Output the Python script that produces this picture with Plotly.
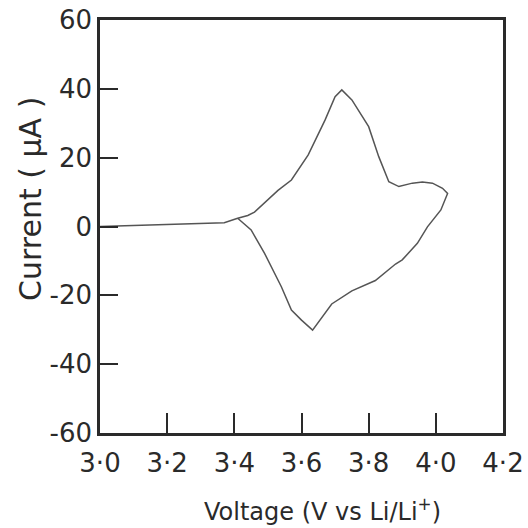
import plotly.graph_objects as go

voltage = [3.00, 3.06, 3.12, 3.20, 3.27, 3.33, 3.37, 3.41, 3.44, 3.46, 3.49, 3.53, 3.57, 3.62, 3.67, 3.70, 3.72,
           3.75, 3.80, 3.83, 3.86, 3.89, 3.93, 3.96, 3.99, 4.02, 4.035, 4.015, 3.975, 3.945, 3.90, 3.88,
           3.82, 3.75, 3.69, 3.655, 3.633, 3.60, 3.57, 3.54, 3.49, 3.45, 3.41]
current = [0.0, 0.2, 0.4, 0.7, 0.9, 1.0, 1.1, 2.4, 3.2, 4.2, 7.0, 10.5, 13.5, 20.8, 30.9, 37.7, 39.7,
           36.8, 29.0, 20.3, 13.0, 11.6, 12.6, 12.9, 12.6, 11.1, 9.6, 4.8, -0.1, -4.9, -9.7, -10.9,
           -15.7, -18.7, -22.5, -27.2, -30.1, -27.2, -24.3, -17.5, -7.8, -1.0, 2.4]

x_label_vals = [3.0, 3.2, 3.4, 3.6, 3.8, 4.0, 4.2]
x_label_text = ["3·0", "3·2", "3·4", "3·6", "3·8", "4·0", "4·2"]
x_tick_vals = [3.2, 3.4, 3.6, 3.8, 4.0]
y_label_vals = [-60, -40, -20, 0, 20, 40, 60]
y_label_text = ["-60", "-40", "-20", "0", "20", "40", "60"]
y_tick_vals = [-40, -20, 0, 20, 40]

font_family = "DejaVu Sans"
ink = "#2a2a2a"

fig = go.Figure()
fig.add_trace(go.Scatter(x=voltage, y=current, mode="lines",
                         line=dict(color="#555555", width=1.5), showlegend=False,
                         hoverinfo="skip"))
fig.add_trace(go.Scatter(x=[3.0], y=[0], mode="markers", marker=dict(opacity=0),
                         xaxis="x2", yaxis="y2", showlegend=False, hoverinfo="skip"))

fig.update_layout(
    width=528, height=528,
    margin=dict(l=100, r=25, t=20, b=95),
    paper_bgcolor="white", plot_bgcolor="white",
    font=dict(family=font_family, color=ink, size=22),
    xaxis=dict(range=[3.0, 4.2], tickvals=x_label_vals, ticktext=x_label_text,
               ticks="", showgrid=False, zeroline=False, showline=True, linecolor=ink,
               linewidth=2.5, mirror=True, ticklabelstandoff=5, automargin=False,
               ticklabeloverflow="allow",
               tickfont=dict(size=26, family=font_family, color=ink)),
    yaxis=dict(range=[-60, 60], tickvals=y_label_vals, ticktext=y_label_text,
               ticks="", showgrid=False, zeroline=False, showline=True, linecolor=ink,
               linewidth=2.5, mirror=True, ticklabelstandoff=0, automargin=False,
               ticklabeloverflow="allow",
               tickfont=dict(size=26, family=font_family, color=ink)),
    xaxis2=dict(range=[3.0, 4.2], overlaying="x", tickvals=x_tick_vals, ticks="inside",
                ticklen=20, tickwidth=2, tickcolor=ink, showticklabels=False,
                showgrid=False, zeroline=False, showline=False, automargin=False),
    yaxis2=dict(range=[-60, 60], overlaying="y", tickvals=y_tick_vals, ticks="inside",
                ticklen=18, tickwidth=2, tickcolor=ink, showticklabels=False,
                showgrid=False, zeroline=False, showline=False, automargin=False),
    annotations=[
        dict(text="Voltage (V vs Li/Li<sup>+</sup>)", xref="paper", yref="paper",
             x=0.551, y=-0.186, xanchor="center", yanchor="middle", showarrow=False,
             font=dict(size=24, family=font_family, color=ink)),
        dict(text="Current ( μA )", xref="paper", yref="paper",
             x=-0.171, y=0.567, xanchor="center", yanchor="middle", showarrow=False,
             textangle=-90, font=dict(size=30, family=font_family, color=ink)),
    ],
)

# remove the browser's default 8px body margin so the 528x528 figure fills the window
fig.write_html("out.html", config={"displayModeBar": False},
               post_script="document.body.style.margin='0';")
